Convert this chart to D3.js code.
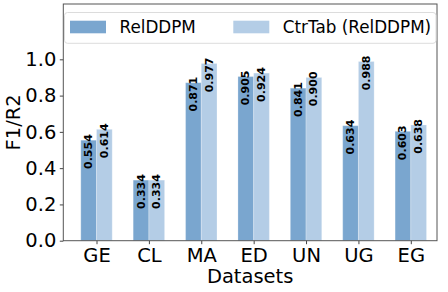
<!DOCTYPE html>
<html>
<head>
<meta charset="utf-8">
<script src="https://cdn.jsdelivr.net/npm/d3@7"></script>
<style>
  html, body { margin: 0; padding: 0; background: #fff; }
  svg { display: block; font-family: "DejaVu Sans", sans-serif; }
</style>
</head>
<body>
<svg id="chart" width="448" height="292"></svg>
<script>
const categories = ["GE", "CL", "MA", "ED", "UN", "UG", "EG"];
const seriesNames = ["RelDDPM", "CtrTab (RelDDPM)"];
const relddpm = [0.554, 0.334, 0.871, 0.905, 0.841, 0.634, 0.603];
const ctrtab = [0.614, 0.334, 0.977, 0.924, 0.900, 0.988, 0.638];
const yTicks = [0.0, 0.2, 0.4, 0.6, 0.8, 1.0];
const colors = ["#7aa6cf", "#b4cde6"];

const svg = d3.select("#chart");
const L = 63.3, R = 437, T = 4, B = 240.7;

const x = d3.scaleLinear().domain([-0.634, 6.5]).range([L, R]);
const y = d3.scaleLinear().domain([0, 1.305]).range([B, T]);
const bw = x(0.3) - x(0);

const series = [relddpm, ctrtab];

// bars
series.forEach((vals, s) => {
  const g = svg.append("g");
  g.selectAll("rect").data(vals).join("rect")
    .attr("x", (d, i) => x(i) + (s === 0 ? -bw : 0))
    .attr("y", d => y(d))
    .attr("width", bw)
    .attr("height", d => y(0) - y(d))
    .attr("fill", colors[s])
    .attr("stroke", "#ffffff")
    .attr("stroke-opacity", 0.25)
    .attr("stroke-width", 1);
  g.selectAll("text").data(vals).join("text")
    .attr("transform", (d, i) => {
      const cx = x(i) + (s === 0 ? -bw / 2 : bw / 2);
      return `translate(${cx},${y(d) - 6}) rotate(-90)`;
    })
    .attr("text-anchor", "end")
    .attr("dominant-baseline", "central")
    .attr("font-size", "11px")
    .attr("font-weight", "bold")
    .attr("fill", "#000")
    .text(d => d.toFixed(3));
});

// axes
const yAxis = d3.axisLeft(y).tickValues(yTicks).tickFormat(d3.format(".1f"))
  .tickSize(3.5).tickPadding(3.5);
const yg = svg.append("g").attr("transform", `translate(${L},0)`).call(yAxis);
yg.select(".domain").remove();
yg.selectAll(".tick line").attr("stroke", "#444");
yg.selectAll(".tick text").attr("font-size", "19.5px").attr("font-family", "DejaVu Sans").attr("fill", "#000");

const xAxis = d3.axisBottom(x).tickValues(d3.range(categories.length))
  .tickFormat(i => categories[i]).tickSize(3.5).tickPadding(3.5);
const xg = svg.append("g").attr("transform", `translate(0,${B})`).call(xAxis);
xg.select(".domain").remove();
xg.selectAll(".tick line").attr("stroke", "#444");
xg.selectAll(".tick text").attr("font-size", "19.5px").attr("font-family", "DejaVu Sans").attr("fill", "#000");

// frame
svg.append("rect").attr("x", L).attr("y", T).attr("width", R - L).attr("height", B - T)
  .attr("fill", "none").attr("stroke", "#555").attr("stroke-width", 1);

// labels
svg.append("text").attr("x", (L + R) / 2).attr("y", 283)
  .attr("text-anchor", "middle").attr("font-size", "19.5px").text("Datasets");
svg.append("text").attr("transform", `translate(20,${(T + B) / 2}) rotate(-90)`)
  .attr("text-anchor", "middle").attr("font-size", "19.5px").text("F1/R2");

// legend
const lg = svg.append("g");
lg.append("rect").attr("x", 64.5).attr("y", 12.5).attr("width", 371.5).attr("height", 30.8)
  .attr("rx", 3).attr("fill", "#fff").attr("fill-opacity", 0.8)
  .attr("stroke", "#dcdcdc").attr("stroke-width", 1);
const legX = [70, 233.3];
seriesNames.forEach((n, s) => {
  lg.append("rect").attr("x", legX[s]).attr("y", 20.7).attr("width", 36).attr("height", 12.6)
    .attr("fill", colors[s]);
  lg.append("text").attr("x", legX[s] + 49.5).attr("y", 33.3)
    .attr("font-size", "16.8px").text(n);
});
</script>
</body>
</html>
